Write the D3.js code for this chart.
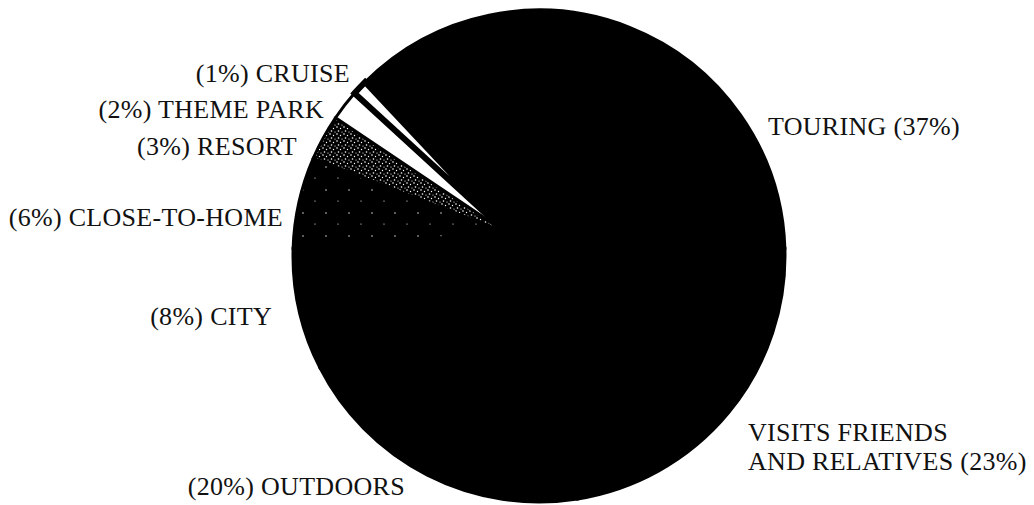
<!DOCTYPE html>
<html>
<head>
<meta charset="utf-8">
<script src="https://cdn.jsdelivr.net/npm/d3@7"></script>
<style>
  body { margin: 0; background: #fff; }
  svg { display: block; }
  text { font-family: "Liberation Serif", "DejaVu Serif", serif; font-size: 26px; letter-spacing: 0.3px; fill: #111; }
</style>
</head>
<body>
<svg id="chart" width="1034" height="505"></svg>
<script>
// trip types, clockwise from the top-right
const tripTypes = ["TOURING", "VISITS FRIENDS AND RELATIVES", "OUTDOORS", "CITY",
                   "CLOSE-TO-HOME", "RESORT", "THEME PARK", "CRUISE"];
const tripShares = [37, 23, 20, 8, 6, 3, 2, 1];
const labelLines = [
    ["TOURING (37%)"],
    ["VISITS FRIENDS", "AND RELATIVES (23%)"],
    ["(20%) OUTDOORS"],
    ["(8%) CITY"],
    ["(6%) CLOSE-TO-HOME"],
    ["(3%) RESORT"],
    ["(2%) THEME PARK"],
    ["(1%) CRUISE"]
];

const width = 1034
const height = 505
const cx = 539
const cy = 256
const radius = 246
// the slices meet a little up and left of the circle centre in the original
const apex = [507, 233]

const svg = d3.select("#chart");
const defs = svg.append("defs");

// speckled fills
function stipple(id, size, dots) {
    const p = defs.append("pattern")
        .attr("id", id)
        .attr("width", size).attr("height", size)
        .attr("patternUnits", "userSpaceOnUse");
    p.append("rect").attr("width", size).attr("height", size).attr("fill", "#000");
    dots.forEach(d => p.append("circle").attr("cx", d[0]).attr("cy", d[1]).attr("r", d[2]).attr("fill", "#fff"));
}
stipple("resortFill", 7, [[1, 1, 0.8], [4.5, 2.5, 0.7], [2.5, 5, 0.8], [6, 6, 0.6]]);
stipple("homeFill", 23, [[4, 6, 0.7], [16, 17, 0.6]]);

const fills = {
    "TOURING": "#000",
    "VISITS FRIENDS AND RELATIVES": "#000",
    "OUTDOORS": "#000",
    "CITY": "#000",
    "CLOSE-TO-HOME": "url(#homeFill)",
    "RESORT": "url(#resortFill)",
    "THEME PARK": "#fff",
    "CRUISE": "#fff"
};

const pie = d3.pie()
    .sort(null)
    .startAngle(-Math.PI / 4)
    .endAngle(2 * Math.PI - Math.PI / 4);

const slices = pie(tripShares).map((d, i) => Object.assign(d, { name: tripTypes[i] }));

function slicePath(d) {
    const p = d3.path();
    p.moveTo(apex[0], apex[1]);
    p.lineTo(cx + radius * Math.sin(d.startAngle), cy - radius * Math.cos(d.startAngle));
    p.arc(cx, cy, radius, d.startAngle - Math.PI / 2, d.endAngle - Math.PI / 2, false);
    p.closePath();
    return p.toString();
}

svg.append("g")
    .selectAll("path")
    .data(slices)
    .join("path")
        .attr("d", slicePath)
        .attr("fill", d => fills[d.name])
        .attr("stroke", "#000")
        .attr("stroke-width", d => d.name === "CRUISE" ? 6 : 3)
        .attr("stroke-linejoin", "miter");

// label placement (anchor point of first baseline)
const labelPos = {
    "TOURING": [768, 135, "start"],
    "VISITS FRIENDS AND RELATIVES": [748, 441, "start"],
    "OUTDOORS": [405, 495, "end"],
    "CITY": [272, 325, "end"],
    "CLOSE-TO-HOME": [283, 226, "end"],
    "RESORT": [297, 155, "end"],
    "THEME PARK": [324, 118, "end"],
    "CRUISE": [350, 82, "end"]
};

const labels = svg.append("g")
    .selectAll("text")
    .data(slices)
    .join("text")
        .attr("x", d => labelPos[d.name][0])
        .attr("y", d => labelPos[d.name][1])
        .attr("text-anchor", d => labelPos[d.name][2]);

labels.selectAll("tspan")
    .data((d, i) => labelLines[i].map(t => ({ t, x: labelPos[d.name][0] })))
    .join("tspan")
        .attr("x", d => d.x)
        .attr("dy", (d, i) => i === 0 ? 0 : 29)
        .text(d => d.t);
</script>
</body>
</html>
